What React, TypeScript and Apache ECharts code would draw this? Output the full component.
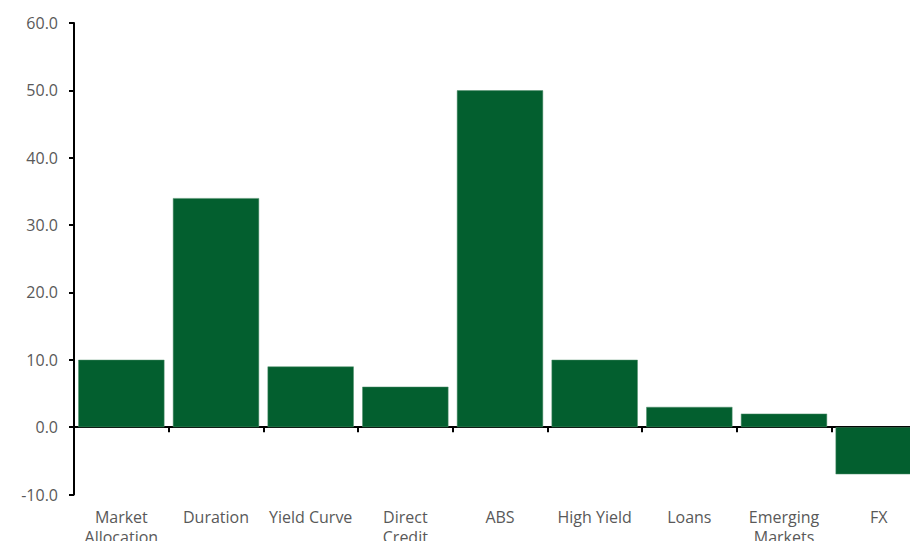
import React, { useEffect, useRef } from "react";
import * as echarts from "echarts";

const categories = [
  "Market\nAllocation",
  "Duration",
  "Yield Curve",
  "Direct\nCredit",
  "ABS",
  "High Yield",
  "Loans",
  "Emerging\nMarkets",
  "FX",
];
const values = [10, 34, 9, 6, 50, 10, 3, 2, -7];
const yTicks = { min: -10, max: 60, interval: 10 };

const FONT = "'Open Sans', 'Noto Sans', sans-serif";
const TEXT = "#595959";

export default function App() {
  const ref = useRef<HTMLDivElement>(null);
  useEffect(() => {
    if (!ref.current) return;
    const chart = echarts.init(ref.current, null, { renderer: "svg" });
    chart.setOption({
      animation: false,
      backgroundColor: "#ffffff",
      grid: {
        left: 74,
        top: 23,
        width: 852,
        bottom: 46.5,
        containLabel: false,
        outerBoundsMode: "none",
      },
      xAxis: [
        {
          type: "category",
          data: categories,
          position: "bottom",
          axisLine: { show: false, onZero: false },
          axisTick: { show: false },
          axisLabel: {
            color: TEXT,
            fontFamily: FONT,
            fontSize: 16,
            lineHeight: 20,
            margin: 12,
            interval: 0,
          },
        },
        {
          type: "category",
          data: categories,
          position: "top",
          axisLine: { show: true, onZero: true, lineStyle: { color: "#000", width: 2 } },
          axisTick: { show: true, inside: true, length: 5, lineStyle: { color: "#000", width: 2 } },
          axisLabel: { show: false },
        },
      ],
      yAxis: {
        type: "value",
        min: yTicks.min,
        max: yTicks.max,
        interval: yTicks.interval,
        axisLine: { show: true, lineStyle: { color: "#000", width: 2 } },
        axisTick: { show: true, length: 5, lineStyle: { color: "#000", width: 2 } },
        splitLine: { show: false },
        axisLabel: {
          color: TEXT,
          fontFamily: FONT,
          fontSize: 16,
          margin: 16,
          formatter: (v: number) => v.toFixed(1),
        },
      },
      series: [
        {
          type: "bar",
          xAxisIndex: 0,
          data: values,
          barCategoryGap: "9%",
          itemStyle: { color: "#035F2F", borderColor: "#4f8f6a", borderWidth: 0.5 },
        },
      ],
    });
    return () => chart.dispose();
  }, []);
  return <div ref={ref} style={{ width: 910, height: 541, position: "absolute", left: 0, top: 0 }} />;
}
